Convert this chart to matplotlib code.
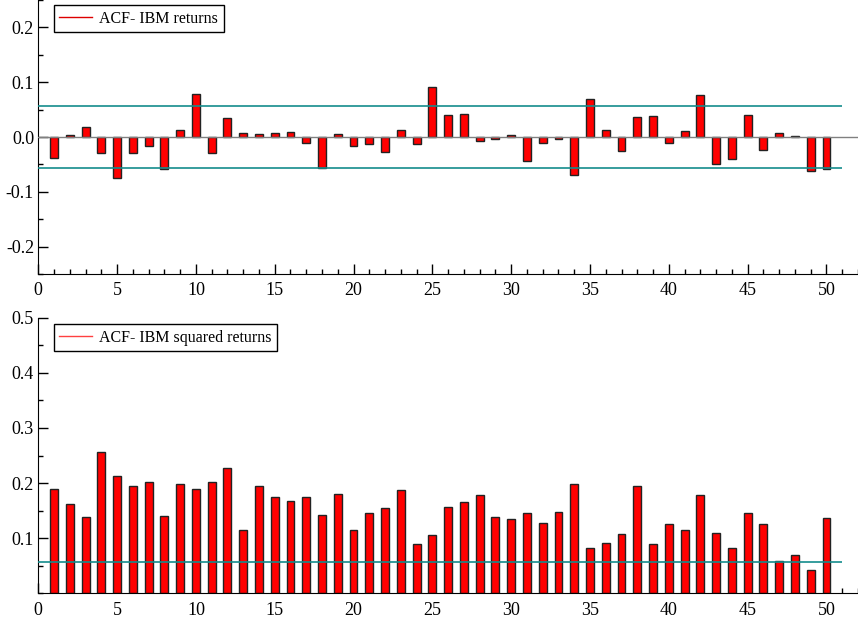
#!/usr/bin/env python3
import matplotlib
matplotlib.use("Agg")
import matplotlib.pyplot as plt
from matplotlib.ticker import MultipleLocator, FormatStrFormatter

plt.rcParams["font.family"] = ["Liberation Serif", "DejaVu Serif"]
plt.rcParams["axes.unicode_minus"] = False

# autocorrelations, lags 1..50
lags = list(range(1, 51))
acf_returns = [
    -0.038, 0.003, 0.019, -0.030, -0.075, -0.029, -0.016, -0.059, 0.012, 0.078,
    -0.029, 0.035, 0.008, 0.005, 0.008, 0.009, -0.010, -0.056, 0.005, -0.016,
    -0.012, -0.027, 0.012, -0.013, 0.092, 0.040, 0.042, -0.008, -0.003, 0.004,
    -0.043, -0.010, -0.004, -0.070, 0.070, 0.013, -0.025, 0.036, 0.038, -0.010,
    0.011, 0.077, -0.050, -0.040, 0.041, -0.024, 0.008, 0.002, -0.062, -0.059,
]
acf_squared = [
    0.190, 0.162, 0.139, 0.257, 0.212, 0.194, 0.202, 0.141, 0.199, 0.189,
    0.202, 0.227, 0.114, 0.195, 0.175, 0.167, 0.174, 0.143, 0.181, 0.114,
    0.146, 0.154, 0.188, 0.089, 0.106, 0.157, 0.166, 0.179, 0.139, 0.135,
    0.146, 0.128, 0.148, 0.198, 0.082, 0.091, 0.107, 0.194, 0.089, 0.125,
    0.115, 0.178, 0.109, 0.082, 0.145, 0.125, 0.058, 0.070, 0.043, 0.137,
]
conf_band = 0.0566

FS = 13
LEG_FS = 11.5
TEAL = "#148c8c"


def style_axes(ax):
    for side in ("top", "right"):
        ax.spines[side].set_visible(False)
    ax.set_xlim(0, 52)
    ax.xaxis.set_major_locator(MultipleLocator(5))
    ax.xaxis.set_minor_locator(MultipleLocator(1))
    ax.yaxis.set_major_formatter(FormatStrFormatter("%.1f"))
    ax.yaxis.set_minor_locator(MultipleLocator(0.05))
    ax.tick_params(which="both", direction="in", labelsize=FS, width=1, pad=6)
    ax.tick_params(which="major", length=7)
    ax.tick_params(which="minor", length=3.5)
    ax.tick_params(axis="y", pad=3)


def add_legend(ax, label, color, top):
    ax.plot([], [], color=color, linewidth=1, label=label)
    leg = ax.legend(loc="upper left", bbox_to_anchor=(0.019, top), fontsize=LEG_FS,
                    frameon=True, fancybox=False, edgecolor="black", framealpha=1,
                    handlelength=2.05, borderpad=0.35, handletextpad=0.45,
                    borderaxespad=0)
    leg.get_frame().set_linewidth(1)


fig = plt.figure(figsize=(8.58, 6.2), dpi=100)
ax1 = fig.add_axes([0.0446, 0.558, 0.9554, 0.442])
ax2 = fig.add_axes([0.0446, 0.043, 0.9554, 0.4446])

# returns
ax1.bar(lags, acf_returns, width=0.5, color="#ff0000", edgecolor="#222222",
        linewidth=1, zorder=2)
ax1.axhline(0, color="#808080", linewidth=1, zorder=3)
ax1.hlines([conf_band, -conf_band], 0, 51, color=TEAL, linewidth=1.2, zorder=3)
ax1.set_ylim(-0.25, 0.25)
ax1.yaxis.set_major_locator(MultipleLocator(0.1))
style_axes(ax1)
add_legend(ax1, "ACF- IBM returns", "#dd0000", 0.982)

# squared returns
ax2.bar(lags, acf_squared, width=0.5, color="#ff0000", edgecolor="#222222",
        linewidth=1, zorder=2)
ax2.hlines([conf_band], 0, 51, color=TEAL, linewidth=1.2, zorder=3)
ax2.set_ylim(0, 0.5)
ax2.set_yticks([0.1, 0.2, 0.3, 0.4, 0.5])
style_axes(ax2)
add_legend(ax2, "ACF- IBM squared returns", "#ff4040", 0.977)

fig.savefig("out.png", dpi=100)
